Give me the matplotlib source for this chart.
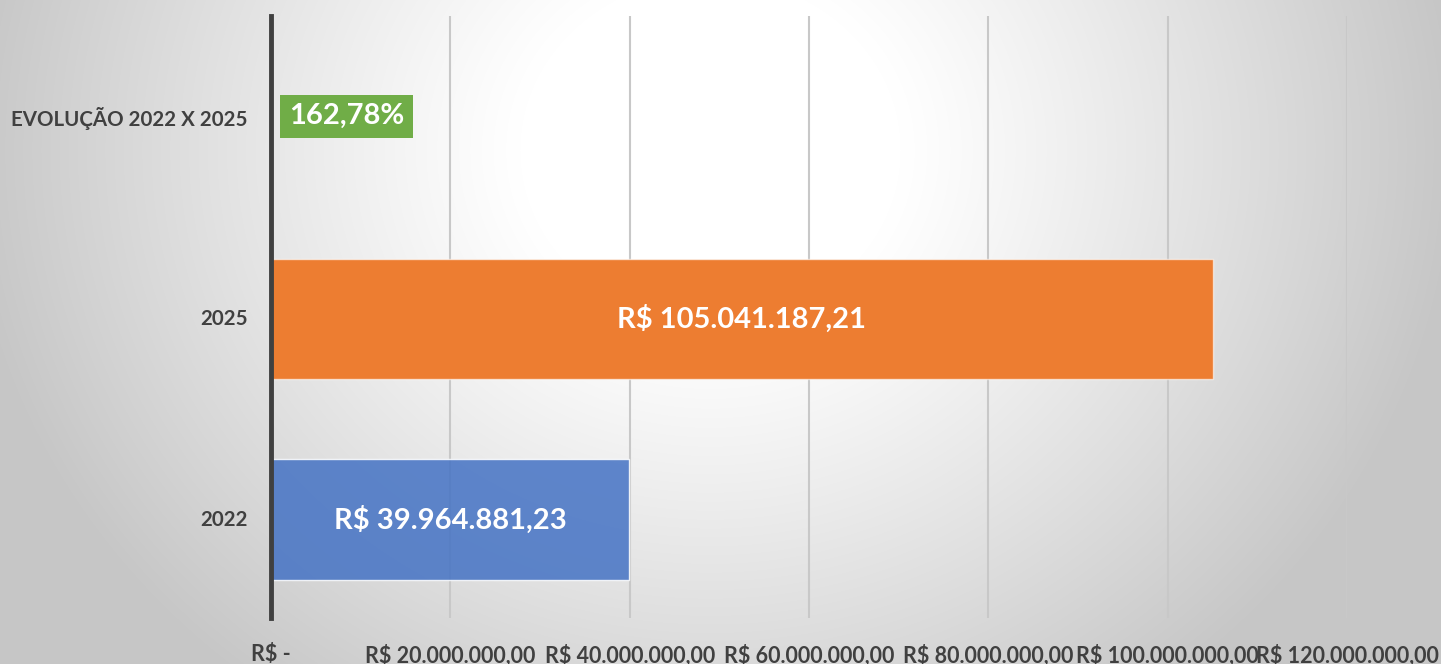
import numpy as np
import matplotlib
matplotlib.use("Agg")
import matplotlib.pyplot as plt
from matplotlib.ticker import FixedLocator

# ============================================================
# Dados
# ============================================================
categorias = ["2022", "2025", "EVOLUÇÃO 2022 X 2025"]
valores = [39964881.23, 105041187.21, 1.6278]
rotulos = ["R$ 39.964.881,23", "R$ 105.041.187,21", "162,78%"]
cores = ["#4472C4", "#ED7D31", "#70AD47"]
ticks_x = [0, 20e6, 40e6, 60e6, 80e6, 100e6, 120e6]
ticks_x_txt = ["R$ -", "R$ 20.000.000,00", "R$ 40.000.000,00", "R$ 60.000.000,00",
               "R$ 80.000.000,00", "R$ 100.000.000,00", "R$ 120.000.000,00"]

plt.rcParams["font.family"] = ["Lato", "DejaVu Sans"]

W, H = 1441, 664
fig = plt.figure(figsize=(W / 100, H / 100), dpi=100)

# fundo com gradiente radial
bg = fig.add_axes([0, 0, 1, 1], zorder=-10)
yy, xx = np.mgrid[0:H, 0:W]
d = np.sqrt(((xx - 710) / 1.0) ** 2 + ((yy - 150) * 1.1) ** 2)
t = np.clip((d - 190) / 560, 0, 1) ** 1.1
g = (255 - (255 - 198) * t) / 255
bg.imshow(np.dstack([g, g, g]), aspect="auto", extent=[0, W, H, 0])
bg.axis("off")

ax = fig.add_axes([271 / W, 1 - 618 / H, (1347 - 271) / W, (618 - 16) / H])
ax.set_facecolor("none")

pos = np.arange(len(categorias))
barras = ax.barh(pos - 0.01, valores, height=0.6, color=cores, zorder=3,
                 edgecolor=(1, 1, 1, 0.6), linewidth=1)
barras[0].set_alpha(0.85)

for i in range(2):
    ax.text(valores[i] / 2, pos[i] - 0.01, rotulos[i], ha="center", va="center",
            color="white", fontsize=21, fontweight="bold", zorder=5)

ax.annotate(rotulos[2], xy=(valores[2], pos[2]), xytext=(13, 0),
            textcoords="offset points", ha="left", va="center",
            color="white", fontsize=21, fontweight="bold", zorder=5,
            bbox=dict(boxstyle="square,pad=0.3", fc=cores[2], ec="none"))

ax.set_xlim(0, 120e6)
ax.set_ylim(-0.5, 2.5)
ax.xaxis.set_major_locator(FixedLocator(ticks_x))
ax.set_xticklabels(ticks_x_txt)
ax.set_yticks(pos)
ax.set_yticklabels(categorias)
ax.tick_params(axis="x", length=0, pad=19, labelsize=15.5, labelcolor="#404040")
ax.tick_params(axis="y", length=0, pad=17, labelsize=14.8, labelcolor="#404040")
for lab in ax.get_xticklabels() + ax.get_yticklabels():
    lab.set_fontweight("bold")

ax.grid(axis="x", color="#c8c8c8", linewidth=1.5, zorder=0)
ax.grid(axis="y", visible=False)
for s in ["top", "right", "bottom"]:
    ax.spines[s].set_visible(False)
ax.spines["left"].set_color("#404040")
ax.spines["left"].set_linewidth(3.5)
ax.spines["left"].set_zorder(6)

fig.savefig("out.png", dpi=100)
